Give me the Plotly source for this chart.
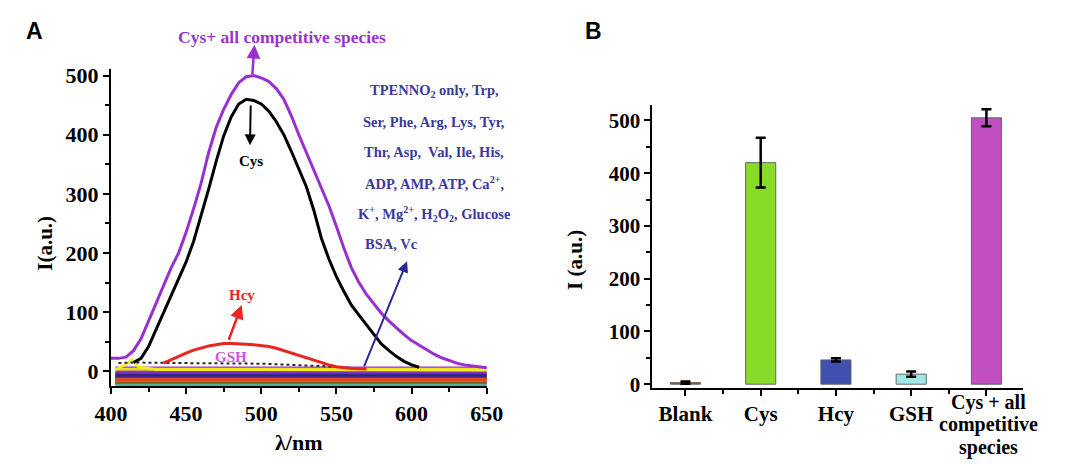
import plotly.graph_objects as go

# ---------------- Data: panel A (spectra) ----------------
wl_cys_all = [400, 405, 410, 415, 420, 425, 430, 435, 440, 445, 450, 455, 460, 465, 470, 475,
              480, 485, 490, 495, 500, 505, 510, 515, 520, 525, 530, 535, 540, 545, 550, 555,
              560, 565, 570, 575, 580, 585, 590, 595, 600, 605, 610, 615, 620, 625, 630, 635,
              640, 645, 650]
cys_all = [22, 22, 24, 35, 55, 85, 112, 145, 175, 200, 235, 275, 318, 370, 412, 443,
           468, 488, 498, 500, 496, 490, 478, 460, 432, 400, 370, 342, 312, 280, 245, 208,
           175, 150, 130, 113, 98, 85, 73, 62, 52, 44, 36, 29, 23, 18, 14, 11,
           9, 7, 6]

wl_cys = [415, 420, 425, 430, 435, 440, 445, 450, 455, 460, 465, 470, 475, 480, 485, 490,
          495, 500, 505, 510, 515, 520, 525, 530, 535, 540, 545, 550, 555, 560, 565, 570,
          575, 580, 585, 590, 595, 600, 605]
cys = [15, 22, 42, 70, 100, 128, 155, 185, 220, 262, 308, 355, 398, 430, 452, 460,
       458, 452, 440, 422, 400, 372, 342, 312, 272, 225, 190, 160, 135, 112, 95, 78,
       62, 46, 35, 25, 17, 11, 7]

wl_hcy = [435, 440, 445, 450, 455, 460, 465, 470, 475, 480, 485, 490, 495, 500, 505, 510,
          515, 520, 525, 530, 535, 540, 545, 550, 555, 560, 570]
hcy = [14, 20, 25, 31, 36, 40, 43, 45, 47, 47, 47, 46, 45, 44, 42, 39,
       35, 31, 27, 22, 18, 14, 11, 8, 6, 5, 4]

wl_gsh = [405, 415, 450, 500, 540, 560]
gsh = [14, 15, 14, 13, 9, 6]

wl_trp = [403, 410, 414, 418, 430, 650]
trp = [3, 12, 20, 8, 3, 2]

interferent_names = ["TPENNO2 only", "Ser", "Phe", "Arg", "Lys", "Tyr", "Thr", "Asp", "Val",
                     "Ile", "His", "ADP", "AMP", "ATP", "Ca2+", "K+", "Mg2+", "H2O2",
                     "Glucose", "BSA", "Vc"]
interferent_levels = [6, 4, 0, -1, -3, -4, -6, -7, -9, -10, -12, -13, -14, -15, -16, -17,
                      -18, -19, -20, -21, -23]
interferent_colors = ["#9B30D8", "#E8E020", "#D8C030", "#8A35C8", "#9030D0", "#7030C0",
                      "#403090", "#302880", "#2A2070", "#3A2A90", "#4B1F9F", "#E03020",
                      "#F05525", "#D83020", "#E85020", "#E84A22", "#D03A20", "#F06030",
                      "#C83020", "#2A8A2A", "#50B0A0"]
wl_span = [403, 650]

# ---------------- Data: panel B (bars) ----------------
bar_labels = ["Blank", "Cys", "Hcy", "GSH", "Cys + all"]
bar_label_extra = ["competitive", "species"]
bar_values = [3, 420, 46, 19, 505]
bar_errors = [2, 47, 3, 5, 16]
bar_colors = ["#E0301E", "#86DC26", "#4050B0", "#A0E8E8", "#C050C0"]

W, H = 1080, 464
def px(x):
    return x / W
def py(y):
    return 1 - y / H

SERIF = "Liberation Serif"

fig = go.Figure()

for name, lvl, col in zip(interferent_names, interferent_levels, interferent_colors):
    fig.add_trace(go.Scatter(x=wl_span, y=[lvl, lvl], mode="lines", name=name,
                             line=dict(color=col, width=2.6), xaxis="x", yaxis="y",
                             showlegend=False))
fig.add_trace(go.Scatter(x=wl_trp, y=trp, mode="lines", name="Trp",
                         line=dict(color="#EEEE22", width=2.6), showlegend=False))
fig.add_trace(go.Scatter(x=wl_gsh, y=gsh, mode="lines", name="GSH",
                         line=dict(color="#2A2A2A", width=2, dash="dot"), showlegend=False))
fig.add_trace(go.Scatter(x=wl_hcy, y=hcy, mode="lines", name="Hcy",
                         line=dict(color="#E8251E", width=3), showlegend=False))
fig.add_trace(go.Scatter(x=wl_cys, y=cys, mode="lines", name="Cys",
                         line=dict(color="#000000", width=3), showlegend=False))
fig.add_trace(go.Scatter(x=wl_cys_all, y=cys_all, mode="lines", name="Cys+ all competitive species",
                         line=dict(color="#9A2FD0", width=3), showlegend=False))

fig.add_trace(go.Bar(x=list(range(len(bar_values))), y=bar_values, width=0.4,
                     marker=dict(color=bar_colors, line=dict(color="#666666", width=1)),
                     error_y=dict(type="data", array=bar_errors, color="#000000",
                                  thickness=2.5, width=5),
                     xaxis="x2", yaxis="y2", showlegend=False))

axis_common = dict(showline=True, linewidth=2, linecolor="black", showgrid=False,
                   zeroline=False, ticks="outside", ticklen=6, tickwidth=2,
                   tickcolor="black", mirror=False)
tickfont = dict(family=SERIF, size=22, color="black", weight="bold")

fig.update_layout(
    width=W, height=H,
    margin=dict(l=0, r=0, t=0, b=0),
    plot_bgcolor="white", paper_bgcolor="white",
    xaxis=dict(domain=[px(97), px(485)], range=[400, 650], tickvals=[400, 450, 500, 550, 600, 650],
               minor=dict(dtick=25, ticklen=4, tickwidth=2, ticks="outside", tickcolor="black"),
               tickfont=tickfont, anchor="y", **axis_common),
    yaxis=dict(domain=[py(392), py(65)], range=[-25, 511], tickvals=[0, 100, 200, 300, 400, 500],
               minor=dict(dtick=50, ticklen=4, tickwidth=2, ticks="outside", tickcolor="black"),
               tickfont=tickfont, anchor="x", **axis_common),
    xaxis2=dict(domain=[px(656), px(1039)], range=[-0.44, 4.49],
                tickvals=list(range(len(bar_labels))), ticktext=bar_labels[:-1] + [""],
                minor=dict(dtick=0.5, ticklen=4, tickwidth=2, ticks="outside", tickcolor="black"),
                tickfont=dict(family=SERIF, size=21, color="black", weight="bold"),
                anchor="y2", **axis_common),
    yaxis2=dict(domain=[py(394), py(102)], range=[-7.4, 529.4], tickvals=[0, 100, 200, 300, 400, 500],
                minor=dict(dtick=50, ticklen=4, tickwidth=2, ticks="outside", tickcolor="black"),
                tickfont=dict(family=SERIF, size=21, color="black", weight="bold"),
                anchor="x2", **axis_common),
)

ann = []
def text(x, y, t, size, color, family=SERIF, xanchor="center", angle=0, weight="bold"):
    ann.append(dict(x=px(x), y=py(y), xref="paper", yref="paper", text=t, showarrow=False,
                    xanchor=xanchor, yanchor="middle", textangle=angle,
                    font=dict(family=family, size=size, color=color, weight=weight)))

def arrow(x0, y0, x1, y1, color, width=2):
    ann.append(dict(x=x1, y=y1, ax=x0, ay=y0, xref="x", yref="y", axref="x", ayref="y",
                    text="", showarrow=True, arrowhead=2, arrowsize=1.1, arrowwidth=width,
                    arrowcolor=color))

text(18, 26, "A", 23, "black", family="Liberation Sans")
text(595, 26, "B", 23, "black", family="Liberation Sans")

text(28, 245, "I(a.u.)", 21, "black", angle=-90)
text(291, 450, "λ/nm", 22, "black")
text(576, 262, "I (a.u.)", 21, "black", angle=-90)

text(274, 32, "Cys+ all competitive species", 17.5, "#9933CC")
arrow(494, 500, 495.5, 552, "#9A2FD0", 2.5)
arrow(493, 452, 492.5, 382, "black", 2)
text(242, 160, "Cys", 15, "black")
text(232, 298, "Hcy", 15, "#E8251E")
arrow(478, 51, 487, 112, "#E8251E", 2.5)
text(221, 362, "GSH", 15, "#CC55DD")
arrow(568, 6, 597, 186, "#2A2A9A", 2)

block_color = "#3A3A9A"
block = ["TPENNO<sub>2</sub> only, Trp,",
         "Ser, Phe, Arg, Lys, Tyr,",
         "Thr, Asp,  Val, Ile, His,",
         "ADP, AMP, ATP, Ca<sup>2+</sup>,",
         "K<sup>+</sup>, Mg<sup>2+</sup>, H<sub>2</sub>O<sub>2</sub>, Glucose"]
for i, line in enumerate(block):
    text(431, 88 + i * 31.5, line, 14.5, block_color)
text(357, 245, "BSA, Vc", 14.5, block_color, xanchor="left")

# last category label, three tightly spaced lines as in the reference
text(1003, 409, bar_labels[-1], 20, "black")
text(1003, 432, bar_label_extra[0], 20, "black")
text(1003, 455, bar_label_extra[1], 20, "black")

fig.update_layout(annotations=ann)
fig.write_html("out.html", config={"displayModeBar": False},
               post_script="document.body.style.margin='0';document.body.style.overflow='hidden';")
